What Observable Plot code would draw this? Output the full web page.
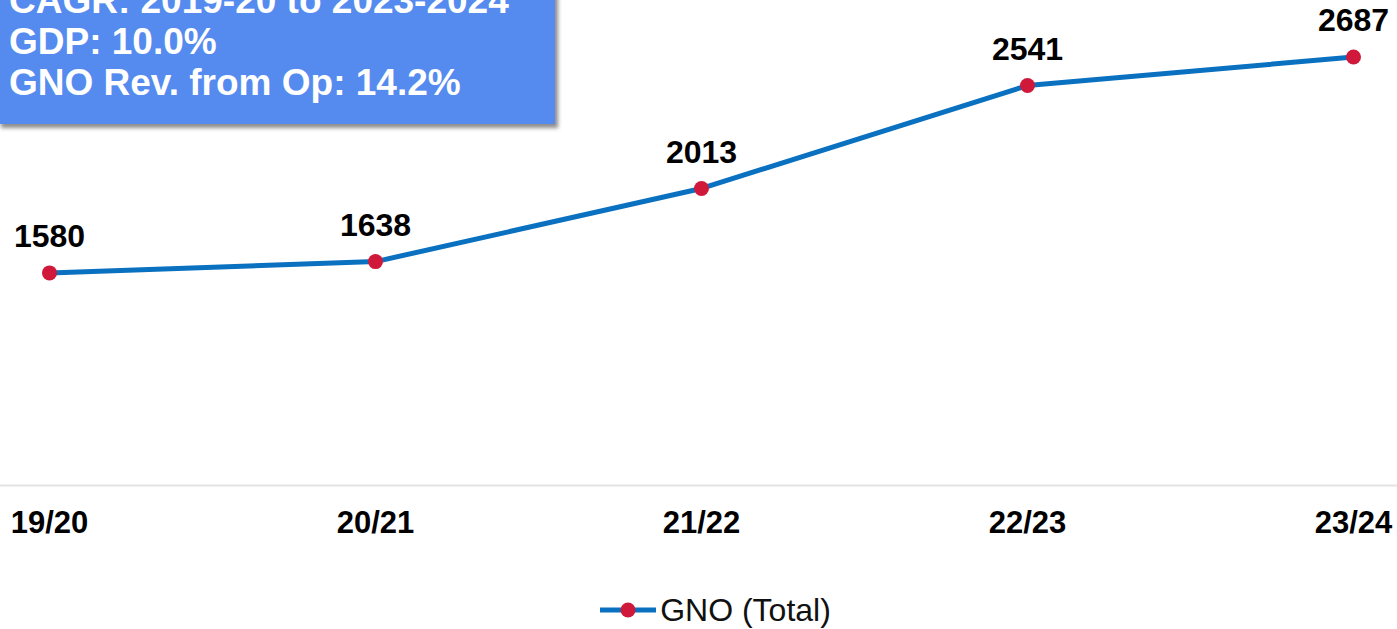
<!DOCTYPE html>
<html>
<head>
<meta charset="utf-8">
<script src="https://cdn.jsdelivr.net/npm/d3@7"></script>
<script src="https://cdn.jsdelivr.net/npm/@observablehq/plot@0.6"></script>
<style>
  html, body { margin: 0; padding: 0; background: #fff; }
  body { width: 1397px; height: 629px; overflow: hidden; position: relative; font-family: "Liberation Sans", Arial, sans-serif; }
  #box {
    position: absolute; left: -2px; top: -30px; width: 557px; height: 154px;
    background: #558bef; box-shadow: 3px 4px 4px rgba(0,0,0,0.45);
    color: #fff; font-weight: bold; font-size: 37px; line-height: 41px;
    padding: 10px 0 0 11px; box-sizing: border-box; white-space: nowrap;
  }
  #legend {
    position: absolute; left: 0; top: 588px; width: 1397px; height: 44px;
    display: flex; justify-content: center; align-items: center; padding-left: 34px; box-sizing: border-box;
    font-size: 32px; color: #111;
  }
  #legend svg { margin-right: 4px; }
</style>
</head>
<body>
<div id="chart"></div>
<div id="box"></div>
<div id="legend"></div>
<script>
const categories = ["19/20", "20/21", "21/22", "22/23", "23/24"];
const values = [1580, 1638, 2013, 2541, 2687];
const boxLines = ["CAGR: 2019-20 to 2023-2024", "GDP: 10.0%", "GNO Rev. from Op: 14.2%"];
const seriesName = "GNO (Total)";
const yDomain = [490, 2700];

const data = categories.map((c, i) => ({category: c, value: values[i]}));
const lineColor = "#0a70c0";
const dotColor = "#d0183a";

const chart = Plot.plot({
  width: 1397,
  height: 580,
  marginLeft: 48,
  marginRight: 43,
  marginTop: 54,
  marginBottom: 95,
  style: {fontFamily: "'Liberation Sans', Arial, sans-serif", background: "#fff", overflow: "visible"},
  x: {type: "point", domain: categories, padding: 0, label: null},
  y: {domain: yDomain, axis: null},
  marks: [
    Plot.ruleY([yDomain[0]], {stroke: "#e3e3e3", strokeWidth: 2, insetLeft: -48, insetRight: -43}),
    Plot.axisX({tickSize: 0, tickPadding: 25, fontSize: 31, fontWeight: "bold", fill: "#000", label: null}),
    Plot.line(data, {x: "category", y: "value", stroke: lineColor, strokeWidth: 5}),
    Plot.dot(data, {x: "category", y: "value", r: 7.5, fill: dotColor, stroke: "none"}),
    Plot.text(data, {x: "category", y: "value", text: d => String(d.value), dy: -36, fontSize: 32, fontWeight: "bold", fill: "#000"})
  ]
});
document.getElementById("chart").appendChild(chart);

const box = document.getElementById("box");
boxLines.forEach(t => { const d = document.createElement("div"); d.textContent = t; box.appendChild(d); });

const legend = document.getElementById("legend");
legend.innerHTML = `<svg width="56" height="20" viewBox="0 0 56 20"><line x1="0" y1="10" x2="56" y2="10" stroke="${lineColor}" stroke-width="5"/><circle cx="28" cy="10" r="7.5" fill="${dotColor}"/></svg><span>${seriesName}</span>`;
</script>
</body>
</html>
